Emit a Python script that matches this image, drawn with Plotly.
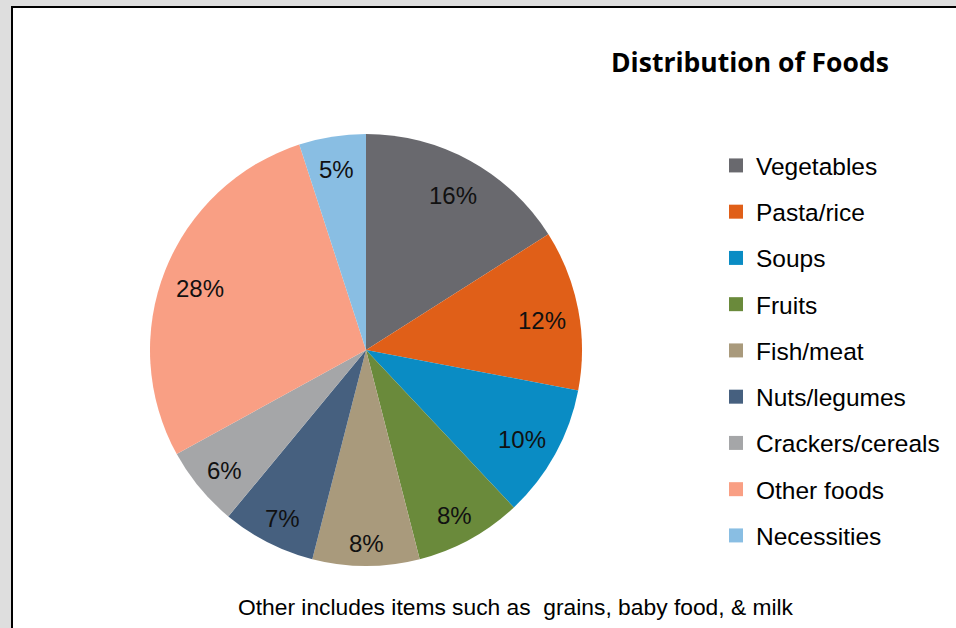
import math
import plotly.graph_objects as go

# ---- data ----
categories = ["Vegetables", "Pasta/rice", "Soups", "Fruits", "Fish/meat",
              "Nuts/legumes", "Crackers/cereals", "Other foods", "Necessities"]
shares = [16, 12, 10, 8, 8, 7, 6, 28, 5]
colors = ["#69696e", "#e05f18", "#0a8cc4", "#6a8a3b", "#a99a7c",
          "#46607f", "#a5a6a8", "#f99f84", "#89bee3"]
title_text = "Distribution of Foods"
footnote_text = "Other includes items such as  grains, baby food, &amp; milk"

W, H = 956, 628
FONT = "Liberation Sans, Arial, sans-serif"

# pie geometry (pixels)
cx, cy, R = 366, 350, 216
dom_x = [(cx - R) / W, (cx + R) / W]
dom_y = [1 - (cy + R) / H, 1 - (cy - R) / H]

fig = go.Figure()
fig.add_trace(go.Pie(
    labels=categories, values=shares, sort=False, direction="clockwise",
    rotation=0, marker=dict(colors=colors, line=dict(width=0)),
    textinfo="none", hoverinfo="label+percent", showlegend=False,
    domain=dict(x=dom_x, y=dom_y),
))

# legend entries (one group per category so the spacing can be set)
for name, col in zip(categories, colors):
    fig.add_trace(go.Scatter(
        x=[None], y=[None], mode="markers", name=name, legendgroup=name,
        marker=dict(symbol="square", size=14, color=col),
        showlegend=True, hoverinfo="skip",
    ))

# percentage labels placed inside each slice (computed from the values)
LBL = 24
total = sum(shares)
annotations = []
cum = 0
for v in shares:
    mid = (cum + v / 2) / total * 2 * math.pi
    cum += v
    txt = f"{round(v / total * 100)}%"
    w = len(txt) * 0.55 * LBL
    h = LBL * 1.0
    ext = abs(w / 2 * math.sin(mid)) + abs(h / 2 * math.cos(mid))
    r = R - 15 - ext
    px = cx + r * math.sin(mid)
    py = cy - r * math.cos(mid)
    annotations.append(dict(
        x=px / W, y=1 - py / H, xref="paper", yref="paper", text=txt,
        showarrow=False, font=dict(family=FONT, size=LBL, color="#111111"),
        xanchor="center", yanchor="middle", yshift=-4,
    ))

annotations.append(dict(
    x=750 / W, y=1 - 62 / H, xref="paper", yref="paper",
    text=f"<b>{title_text}</b>", showarrow=False,
    font=dict(family="Open Sans, Liberation Sans, sans-serif", size=26.5, color="#000000"),
    xanchor="center", yanchor="middle",
))
annotations.append(dict(
    x=516 / W, y=1 - 607 / H, xref="paper", yref="paper",
    text=footnote_text, showarrow=False,
    font=dict(family=FONT, size=22.8, color="#000000"),
    xanchor="center", yanchor="middle",
))

fig.update_layout(
    width=W, height=H, margin=dict(l=0, r=0, t=0, b=0),
    paper_bgcolor="#dedede", plot_bgcolor="rgba(0,0,0,0)",
    xaxis=dict(visible=False), yaxis=dict(visible=False),
    showlegend=True,
    legend=dict(x=716 / W, y=1 - 143 / H, xanchor="left", yanchor="top",
                font=dict(family=FONT, size=24.5, color="#000000"),
                tracegroupgap=11.4, bgcolor="rgba(0,0,0,0)", itemclick=False),
    shapes=[dict(type="rect", xref="paper", yref="paper", layer="below",
                 x0=12 / W, x1=1.02, y0=-0.02, y1=1 - 7 / H,
                 fillcolor="#ffffff", line=dict(color="#000000", width=2))],
    annotations=annotations,
)

fig.write_html("out.html", config={"displayModeBar": False},
               post_script="document.body.style.margin='0';document.body.style.padding='0';")
